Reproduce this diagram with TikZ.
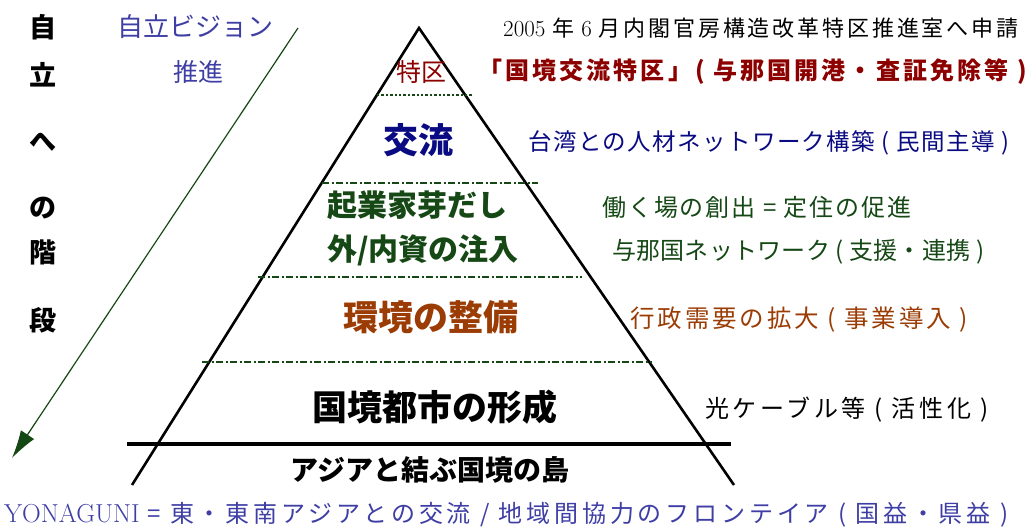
\documentclass[tikz,border=0pt]{standalone}
\usepackage{fontspec}
\newfontfamily\jp{Noto Sans CJK JP}
\usetikzlibrary{arrows.meta}
\definecolor{visionblue}{RGB}{62,62,165}
\definecolor{zonered}{RGB}{140,0,0}
\definecolor{navy}{RGB}{10,10,130}
\definecolor{bizgreen}{RGB}{22,72,22}
\definecolor{envbrown}{RGB}{155,60,5}
\newcommand\jpsize[2]{\jp\fontsize{#1}{#1}\selectfont\addfontfeatures{LetterSpace=#2}}
\begin{document}
\begin{tikzpicture}
[x=1pt,y=-1pt,inner sep=0pt,
 stair/.style={font=\jp\bfseries\fontsize{27}{30}\selectfont},
 note/.style={anchor=west},
 layer/.style={font=\jp\bfseries\fontsize{35}{40}\selectfont},
 sublayer/.style={font=\jp\bfseries\fontsize{30}{36}\selectfont},
 divider/.style={bizgreen,line width=1.4pt,dash pattern=on 7pt off 2.5pt on 2pt off 2.5pt}]
\useasboundingbox (0,0) rectangle (1034,530);
\coordinate (apex) at (419,28);
\coordinate (baseL) at (132,485);
\coordinate (baseR) at (734,485);
\coordinate (arrowtop) at (298,28);
\coordinate (arrowtip) at (12,458);
\draw[line width=2.6pt] (baseL) -- (apex) -- (baseR);
\draw[bizgreen,line width=2.4pt,dash pattern=on 2.4pt off 2pt] (377,95) -- (472,95);
\draw[divider] (322,183) -- (538,183);
\draw[divider] (258,277) -- (582,277);
\draw[divider] (202,362) -- (652,362);
\draw[line width=3.2pt] (127,444) -- (731,444);
\draw[bizgreen,line width=1.2pt,-{Latex[length=28pt,width=16pt]}] (arrowtop) -- (arrowtip);
\node[stair] (s1) at (43,27) {自};
\node[stair] (s2) at (43,75) {立};
\node[stair] (s3) at (43,142) {へ};
\node[stair] (s4) at (43,208) {の};
\node[stair] (s5) at (43,252) {階};
\node[stair] (s6) at (43,320) {段};
\node[font=\jpsize{26}{0},visionblue] (vision) at (195,27) {自立ビジョン};
\node[font=\jpsize{25}{0},visionblue] (promote) at (198,72) {推進};
\node[font=\jpsize{25}{0},zonered] (zone) at (421,72) {特区};
\node[note] (apply) at (503,28) {\fontsize{23}{26}\selectfont 2005 {\jpsize{22}{13}年} 6 {\jpsize{22}{13}月内閣官房構造改革特区推進室へ申請}};
\node[note,zonered,font=\jpsize{24}{13}\bfseries] (border) at (478,72) {「国境交流特区」( 与那国開港・査証免除等 )};
\node[layer,navy] (exchange) at (418,140) {交流};
\node[note,navy,font=\jpsize{23.5}{6}] (taiwan) at (528,143) {台湾との人材ネットワーク構築 ( 民間主導 )};
\node[sublayer,bizgreen,anchor=west] (startup) at (327,205) {起業家芽だし};
\node[sublayer,bizgreen,anchor=west] (invest) at (327,250) {外/内資の注入};
\node[note,bizgreen,font=\jpsize{24}{8}] (work) at (602,207) {働く場の創出 = 定住の促進};
\node[note,bizgreen,font=\jpsize{24}{1}] (network) at (612,252) {与那国ネットワーク ( 支援・連携 )};
\node[layer,envbrown] (env) at (431,317) {環境の整備};
\node[note,envbrown,font=\jpsize{24.5}{12}] (admin) at (630,320) {行政需要の拡大 ( 事業導入 )};
\node[layer] (city) at (435,407) {国境都市の形成};
\node[note,font=\jpsize{24}{15}] (cable) at (705,410) {光ケーブル等 ( 活性化 )};
\node[font=\jp\bfseries\fontsize{28}{32}\selectfont] (island) at (430,470) {アジアと結ぶ国境の島};
\node[note,visionblue] (yonaguni) at (4,515) {\fontsize{26}{28}\selectfont YONAGUNI {\jpsize{24}{16}= 東・東南アジアとの交流 / 地域間協力のフロンテイア ( 国益・県益 )}};
\end{tikzpicture}
\end{document}
